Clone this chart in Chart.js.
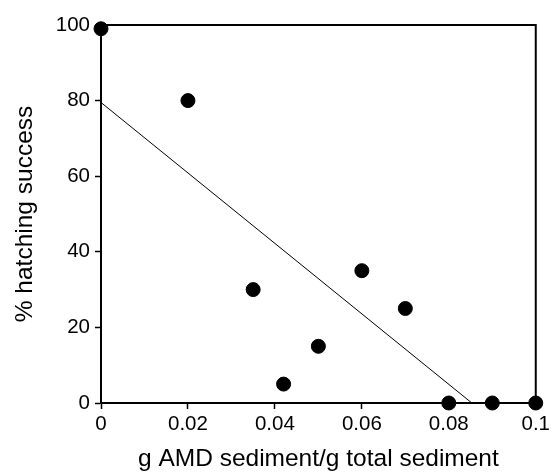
<!DOCTYPE html>
<html><head><meta charset="utf-8">
<script src="https://cdn.jsdelivr.net/npm/chart.js@4"></script>
<style>html,body{margin:0;padding:0;background:#fff}</style>
</head><body>
<canvas id="c" width="553" height="473"></canvas>
<script>
const amdFraction = [0, 0.02, 0.035, 0.042, 0.05, 0.06, 0.07, 0.08, 0.09, 0.1];
const hatchingSuccess = [99, 80, 30, 5, 15, 35, 25, 0, 0, 0];
const fitX = [0, 0.0853];
const fitY = [79.5, 0];
const xTicks = [0, 0.02, 0.04, 0.06, 0.08, 0.1];
const yTicks = [0, 20, 40, 60, 80, 100];
const xTitle = 'g AMD sediment/g total sediment';
const yTitle = '% hatching success';

const family = '"Liberation Sans", Arial, Helvetica, sans-serif';
const tickFont = {family, size: 20.5};
const titleFont = {family, size: 24.5};

const frame = {
  id: 'frame',
  afterDatasetsDraw(chart) {
    const a = chart.chartArea, ctx = chart.ctx;
    ctx.save();
    ctx.strokeStyle = '#000';
    ctx.lineWidth = 2;
    ctx.strokeRect(a.left, a.top, a.right - a.left, a.bottom - a.top);
    ctx.restore();
  }
};

new Chart(document.getElementById('c'), {
  type: 'scatter',
  data: {
    datasets: [
      {
        type: 'line',
        data: fitX.map((x, i) => ({x, y: fitY[i]})),
        borderColor: '#000', borderWidth: 1, pointRadius: 0, fill: false, order: 2
      },
      {
        data: amdFraction.map((x, i) => ({x, y: hatchingSuccess[i]})),
        backgroundColor: '#000', borderColor: '#000', pointRadius: 7, pointHoverRadius: 7,
        clip: false, order: 1
      }
    ]
  },
  plugins: [frame],
  options: {
    responsive: false, animation: false,
    layout: {padding: {top: 25, right: 16, left: 0, bottom: 0}},
    plugins: {legend: {display: false}, tooltip: {enabled: false}},
    scales: {
      x: {
        type: 'linear', min: 0, max: 0.1,
        afterFit: s => { s.height = 70; },
        afterBuildTicks: s => { s.ticks = xTicks.map(v => ({value: v})); },
        ticks: {color: '#000', font: tickFont, padding: 3, maxRotation: 0, callback: v => String(+v.toFixed(2))},
        grid: {drawOnChartArea: false, tickLength: 6, color: '#000', tickColor: '#000', tickWidth: 1.5},
        border: {color: '#000', width: 2},
        title: {display: true, text: xTitle, color: '#000', font: titleFont, padding: {top: 0, bottom: -1}}
      },
      y: {
        type: 'linear', min: 0, max: 100,
        afterFit: s => { s.width = 101; },
        afterBuildTicks: s => { s.ticks = yTicks.map(v => ({value: v})); },
        ticks: {color: '#000', font: tickFont, padding: 5},
        grid: {drawOnChartArea: false, tickLength: 6, color: '#000', tickColor: '#000', tickWidth: 1.5},
        border: {color: '#000', width: 2},
        title: {display: true, text: yTitle, color: '#000', font: titleFont, padding: {top: 11, bottom: 0}}
      }
    }
  }
});
</script>
</body></html>
